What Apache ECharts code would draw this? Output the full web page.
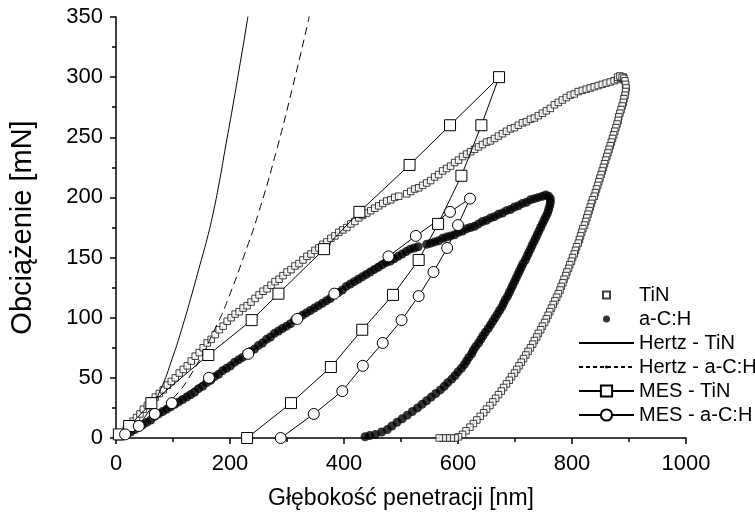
<!DOCTYPE html>
<html>
<head>
<meta charset="utf-8">
<script src="https://cdn.jsdelivr.net/npm/echarts@6/dist/echarts.min.js"></script>
<style>
  html, body { margin: 0; padding: 0; background: #fff; }
  #chart { width: 755px; height: 515px; }
</style>
</head>
<body>
<div id="chart"></div>
<script>
// measured TiN curve (loading then unloading), [depth nm, load mN]
const tinLoad = [[6,1],[12,4],[18,7],[24,10],[30,14],[36,17],[42,20],[48,24],[55,27],[62,31],[69,34],[76,37],[83,40],[90,44],[97,47],[104,50],[111,54],[118,57],[125,60],[132,64],[139,68],[146,71],[153,75],[160,79],[167,82],[174,86],[181,90],[188,93],[195,97],[202,100],[209,103],[216,105],[223,108],[230,110],[237,113],[244,116],[251,119],[258,122],[265,124],[272,127],[279,130],[286,132],[293,135],[300,138],[307,140],[314,143],[321,145],[328,148],[335,151],[342,153],[349,156],[356,158],[363,161],[370,163],[377,166],[384,168],[391,171],[398,173],[405,175],[412,178],[419,180],[426,183],[433,185],[440,187],[447,189],[454,191],[461,193],[468,195],[475,197],[482,198],[489,200],[496,201],[510,203],[517,205],[524,207],[531,208],[538,210],[545,212],[552,214],[559,217],[566,219],[573,222],[580,224],[587,226],[594,229],[601,231],[608,234],[615,236],[622,238],[629,240],[636,242],[643,244],[650,246],[657,247],[664,249],[671,251],[678,253],[685,255],[692,257],[699,258],[706,260],[713,262],[720,263],[727,265],[734,266],[741,268],[748,270],[755,272],[762,274],[769,277],[776,279],[783,281],[790,283],[797,285],[804,286],[811,288],[818,289],[825,290],[832,291],[839,292],[846,293],[853,294],[860,295],[867,296],[874,297],[880,298],[885,299],[890,300]];
const tinUnload = [[880,300],[884,301],[888,300],[891,299],[893,297],[894,294],[895,291],[894,288],[893,285],[891,282],[890,279],[888,276],[886,273],[884,270],[882,267],[881,264],[879,261],[877,258],[875,255],[873,252],[871,249],[869,246],[867,243],[865,240],[863,237],[861,234],[859,231],[857,228],[855,225],[853,222],[851,219],[849,216],[847,213],[845,210],[843,207],[841,204],[839,201],[836,198],[834,195],[832,192],[830,189],[828,186],[826,183],[824,180],[822,177],[819,174],[817,171],[815,168],[813,165],[811,162],[808,159],[806,156],[804,153],[801,150],[799,147],[796,144],[794,141],[791,138],[789,135],[786,132],[784,129],[781,126],[779,123],[776,120],[773,117],[770,114],[767,111],[764,108],[761,105],[758,102],[755,99],[752,96],[748,93],[745,90],[741,87],[738,84],[734,81],[731,78],[727,75],[723,72],[719,69],[715,66],[711,63],[707,60],[703,57],[699,54],[694,51],[690,48],[685,45],[680,42],[676,39],[671,36],[666,33],[661,30],[656,27],[650,24],[645,21],[639,18],[633,15],[627,12],[621,9],[614,6],[608,3],[601,1],[595,0],[588,0],[581,0],[574,0],[567,0]];

// measured a-C:H curve
const achLoad = [[12,2],[19,3],[26,5],[33,7],[40,9],[47,11],[54,13],[61,15],[68,18],[75,20],[82,22],[89,24],[96,26],[103,28],[110,30],[117,32],[124,34],[131,36],[138,38],[145,41],[152,43],[159,46],[166,48],[173,51],[180,53],[187,56],[194,58],[201,60],[208,63],[215,65],[222,67],[229,70],[236,72],[243,74],[250,77],[257,79],[264,82],[271,84],[278,87],[285,89],[292,91],[299,93],[306,95],[313,98],[320,100],[327,102],[334,104],[341,106],[348,108],[355,110],[362,112],[369,114],[376,116],[383,119],[390,121],[397,123],[404,126],[411,128],[418,130],[425,132],[432,134],[439,136],[446,138],[453,140],[460,142],[467,144],[474,146],[481,147],[488,149],[495,151],[502,153],[509,155],[516,157],[523,158],[530,159],[545,161],[552,162],[559,163],[566,164],[573,166],[580,167],[587,168],[594,169],[601,171],[608,172],[615,174],[622,175],[629,176],[636,178],[643,180],[650,181],[657,183],[664,184],[671,186],[678,187],[685,189],[692,190],[699,192],[706,193],[713,195],[720,196],[727,198],[734,199],[741,200],[748,201],[754,202],[759,201],[762,199]];
const achUnload = [[762,196],[761,193],[759,190],[757,187],[754,184],[751,181],[748,178],[745,175],[742,172],[739,169],[736,166],[733,163],[730,160],[727,157],[724,154],[721,151],[718,148],[714,145],[711,142],[708,139],[705,136],[702,133],[699,130],[696,127],[693,124],[690,121],[687,118],[683,115],[680,112],[677,109],[673,106],[669,103],[665,100],[661,97],[657,94],[653,91],[648,88],[644,85],[640,82],[636,79],[631,76],[627,73],[624,70],[619,67],[615,64],[611,61],[606,58],[600,55],[595,52],[589,49],[582,46],[576,43],[569,40],[561,37],[553,34],[545,31],[537,28],[529,25],[520,22],[511,19],[502,16],[493,13],[484,10],[476,7],[466,5],[455,3],[445,2],[437,1]];

// Hertz model curves
const hertzTiN = [[10,0],[30,6],[50,17],[77,39],[100,68],[115,90],[131,116],[145,140],[160,166],[170,186],[181,212],[191,239],[205,276],[218,312],[230,346],[233,356]];
const hertzACH = [[10,0],[50,12],[98,32],[133,54],[177,94],[197,116],[225,152],[250,187],[281,238],[310,292],[337,346],[340,354]];

// MES model curves
const mesTiN = [[5,3],[23,10],[62,29],[162,69],[238,98],[285,120],[365,157],[427,188],[515,227],[586,260],[672,300],[641,260],[606,218],[565,178],[531,148],[486,119],[432,90],[377,59],[307,29],[230,0]];
const mesACH = [[16,3],[40,10],[68,20],[98,29],[163,50],[232,70],[318,99],[383,120],[478,151],[526,168],[586,188],[621,199],[600,177],[581,158],[557,138],[531,118],[501,98],[468,79],[433,60],[397,39],[347,20],[289,0]];

const font = "Liberation Sans, Arial, sans-serif";
const chart = echarts.init(document.getElementById("chart"));

const option = {
  animation: false,
  textStyle: { fontFamily: font, color: "#000" },
  grid: { left: 116, right: 69, top: 17, bottom: 73 },
  legend: {
    orient: "vertical",
    left: 573,
    top: 280,
    itemWidth: 55,
    itemHeight: 14,
    itemGap: 4,
    textStyle: { fontFamily: font, fontSize: 20, color: "#000" },
    data: [
      { name: "TiN", icon: "path://M0,0M14,14M3.5,3.5h7v7h-7z" },
      { name: "a-C:H", icon: "path://M0,0M14,14M3.5,7a3.5,3.5 0 1,0 7,0a3.5,3.5 0 1,0 -7,0z" },
      { name: "Hertz - TiN", itemStyle: { opacity: 0 } },
      { name: "Hertz - a-C:H", lineStyle: { type: [4, 3] } },
      { name: "MES - TiN" },
      { name: "MES - a-C:H" },
    ],
  },
  xAxis: {
    type: "value",
    min: 0,
    max: 1000,
    interval: 200,
    name: "Głębokość penetracji [nm]",
    nameLocation: "middle",
    nameGap: 49,
    nameTextStyle: { fontFamily: font, fontSize: 23, color: "#000" },
    axisLine: { lineStyle: { color: "#000", width: 1.5 } },
    axisTick: { inside: false, length: 6, lineStyle: { color: "#000", width: 1.5 } },
    minorTick: { show: true, splitNumber: 2, length: 4, lineStyle: { color: "#000", width: 1.5 } },
    axisLabel: {
      fontFamily: font, fontSize: 22, color: "#000", margin: 15,
      formatter: (v) => String(v),
    },
    splitLine: { show: false },
  },
  yAxis: {
    type: "value",
    min: 0,
    max: 350,
    interval: 50,
    name: "Obciążenie [mN]",
    nameLocation: "middle",
    nameGap: 79,
    nameTextStyle: { fontFamily: font, fontSize: 29, color: "#000" },
    axisLine: { show: true, lineStyle: { color: "#000", width: 1.5 } },
    axisTick: { show: true, inside: false, length: 6, lineStyle: { color: "#000", width: 1.5 } },
    minorTick: { show: true, splitNumber: 2, length: 4, lineStyle: { color: "#000", width: 1.5 } },
    axisLabel: { fontFamily: font, fontSize: 22, color: "#000", margin: 13 },
    splitLine: { show: false },
  },
  series: [
    {
      name: "TiN",
      type: "scatter",
      symbol: "rect",
      symbolSize: 6.5,
      itemStyle: { color: "#fff", borderColor: "#111", borderWidth: 1 },
      data: tinLoad.concat(tinUnload),
      z: 2,
    },
    {
      name: "a-C:H",
      type: "scatter",
      symbol: "circle",
      symbolSize: 9,
      itemStyle: { color: "#000" },
      data: achLoad.concat(achUnload),
      z: 2,
    },
    {
      name: "Hertz - TiN",
      type: "line",
      smooth: true,
      symbol: "none",
      lineStyle: { color: "#000", width: 1 },
      itemStyle: { color: "#000" },
      data: hertzTiN,
      z: 3,
    },
    {
      name: "Hertz - a-C:H",
      type: "line",
      smooth: true,
      showSymbol: false,
      symbol: "path://M0,0M10,10M3.6,5a1.4,1.4 0 1,0 2.8,0a1.4,1.4 0 1,0 -2.8,0z",
      lineStyle: { color: "#000", width: 1, type: [8, 5] },
      itemStyle: { color: "#000" },
      data: hertzACH,
      z: 3,
    },
    {
      name: "MES - TiN",
      type: "line",
      symbol: "rect",
      symbolSize: 11,
      lineStyle: { color: "#000", width: 1 },
      itemStyle: { color: "#fff", borderColor: "#000", borderWidth: 1 },
      data: mesTiN,
      z: 4,
    },
    {
      name: "MES - a-C:H",
      type: "line",
      symbol: "circle",
      symbolSize: 11,
      lineStyle: { color: "#000", width: 1 },
      itemStyle: { color: "#fff", borderColor: "#000", borderWidth: 1 },
      data: mesACH,
      z: 4,
    },
  ],
};

chart.setOption(option);
</script>
</body>
</html>
